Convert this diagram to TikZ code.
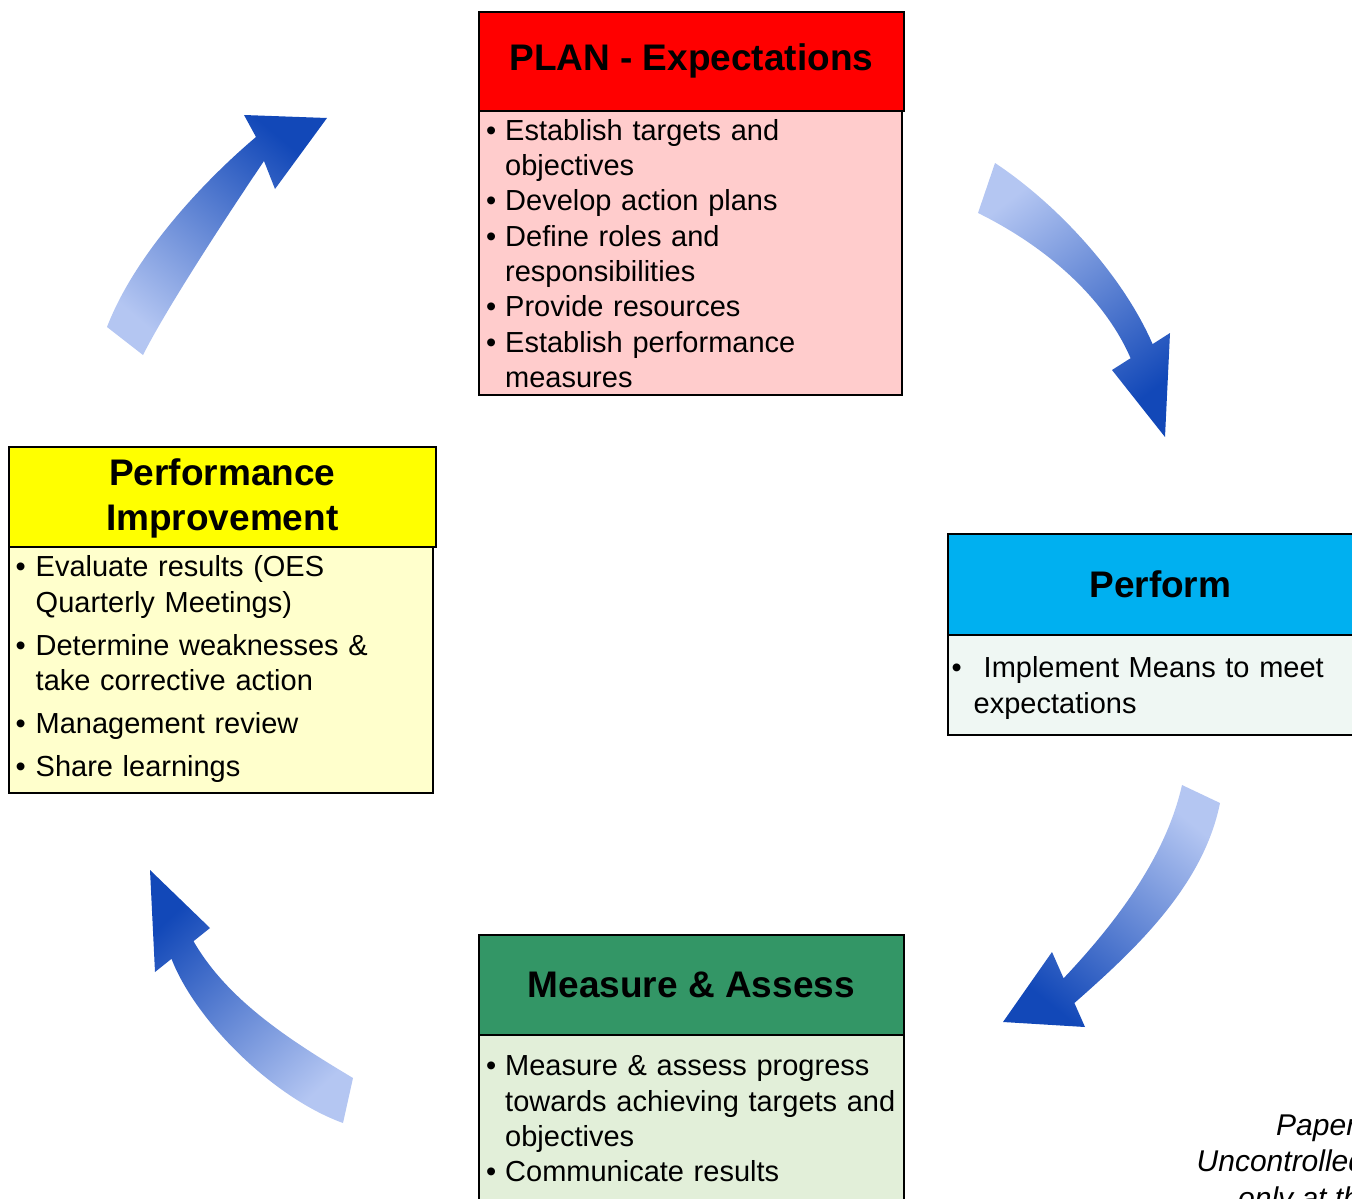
\documentclass[tikz,border=0pt]{standalone}
\usepackage{fontspec}
\setmainfont{Liberation Sans}

\definecolor{planred}{RGB}{255,0,0}
\definecolor{planpink}{RGB}{255,204,204}
\definecolor{impyellow}{RGB}{255,255,0}
\definecolor{impcream}{RGB}{255,255,204}
\definecolor{perfcyan}{RGB}{0,176,240}
\definecolor{perfmint}{RGB}{239,247,243}
\definecolor{measgreen}{RGB}{51,150,102}
\definecolor{measlight}{RGB}{226,239,217}
\definecolor{arrlight}{RGB}{180,198,242}
\definecolor{arrdark}{RGB}{18,72,184}

% bullet item with hanging indent
\newcommand{\bitem}[2][19pt]{\hangindent=#1\hangafter=1\noindent\makebox[#1][l]{•}#2\par}

\tikzset{
  hdrbox/.style={draw, line width=1.6, minimum width=425, minimum height=99, inner sep=0, anchor=north west, align=center, font=\bfseries\fontsize{37}{45}\selectfont},
  bodybox/.style={draw, line width=1.6, minimum width=423, inner sep=0, anchor=north west},
  bodytext/.style={anchor=north west, inner sep=0, text width=500, font=\fontsize{29}{35.3}\selectfont},
  notetext/.style={anchor=base west, inner sep=0, font=\itshape\fontsize{30}{36}\selectfont},
  cyclearrow/.style={left color=arrlight, right color=arrdark}
}

\begin{document}
\begin{tikzpicture}[x=1pt,y=1pt,yscale=-1,xscale=1]
\useasboundingbox (0,0) rectangle (1352,1199);
\clip (0,0) rectangle (1352,1199);

%Box: PLAN
\node[bodybox, fill=planpink, minimum height=284] (planbody) at (478,110) {};
\node[hdrbox, fill=planred] (planhead) at (478,11) {PLAN - Expectations};
\node[bodytext] (plantext) at (486,119) {%
  \bitem{Establish targets and\newline objectives}
  \bitem{Develop action plans}
  \bitem{Define roles and\newline responsibilities}
  \bitem{Provide resources}
  \bitem{Establish performance\newline measures}};

%Box: Perform
\node[bodybox, fill=perfmint, minimum width=425, minimum height=100] (perfbody) at (947,634) {};
\node[hdrbox, fill=perfcyan, minimum height=101] (perfhead) at (947,533) {Perform};
\node[bodytext, font=\fontsize{29}{35.8}\selectfont] (perftext) at (951.5,656.5) {%
  \bitem[22pt]{\hspace{10pt}Implement Means to meet\newline expectations}};

%Box: Measure & Assess
\node[bodybox, fill=measlight, minimum width=425, minimum height=200] (measbody) at (478,1034) {};
\node[hdrbox, fill=measgreen, minimum height=100] (meashead) at (478,934) {Measure \& Assess};
\node[bodytext] (meastext) at (486,1055.5) {%
  \bitem{Measure \& assess progress\newline towards achieving targets and\newline objectives}
  \bitem{Communicate results}};

%Box: Performance Improvement
\node[bodybox, fill=impcream, minimum width=424, minimum height=246] (impbody) at (8,546) {};
\node[hdrbox, fill=impyellow, minimum width=427, minimum height=100] (imphead) at (8,446) {\rule{0pt}{31pt}Performance\\Improvement};
\node[bodytext, font=\fontsize{29}{35.5}\selectfont] (imptext) at (15.5,555.4) {%
  \bitem[20pt]{Evaluate results (OES\newline Quarterly Meetings)}
  \vspace{7.5pt}
  \bitem[20pt]{Determine weaknesses \&\newline take corrective action}
  \vspace{7.5pt}
  \bitem[20pt]{Management review}
  \vspace{7.5pt}
  \bitem[20pt]{Share learnings}};

%Arrow: improvement to plan
\shade[cyclearrow, shading angle=140] (107,327) .. controls (135,254) and (205,180) .. (256,137) -- (244,115) -- (327,118) -- (275,189) -- (264,161) .. controls (241,195) and (170,301.6) .. (143,355) -- cycle;
%Arrow: plan to perform
\shade[cyclearrow, shading angle=37] (995,163) .. controls (1057,204) and (1122.6,275) .. (1152.6,344.1) -- (1170,333) -- (1165,437) -- (1112,370) -- (1130.6,358.2) .. controls (1102.6,293.8) and (1041,244) .. (978,213) -- cycle;
%Arrow: perform to measure
\shade[cyclearrow, shading angle=-39] (1182,785) .. controls (1165.5,858) and (1115,923.7) .. (1063.6,978.3) -- (1052,952) -- (1003,1022) -- (1085,1027) -- (1074.4,1003) .. controls (1134.4,950.2) and (1203.3,886.3) .. (1220,803) -- cycle;
%Arrow: measure to improvement
\shade[cyclearrow, shading angle=223] (353,1078) .. controls (293,1042) and (228.5,1001.8) .. (193.5,941.2) -- (210,928) -- (150,870) -- (155,972) -- (171.5,958.8) .. controls (195,1020) and (272.5,1097.5) .. (343,1123) -- cycle;

% Text Node
\node[notetext] (note1) at (1276,1135) {Paper};
\node[notetext] (note2) at (1196.5,1171.5) {Uncontrolled};
\node[notetext] (note3) at (1238,1208) {only at the};
\end{tikzpicture}
\end{document}
